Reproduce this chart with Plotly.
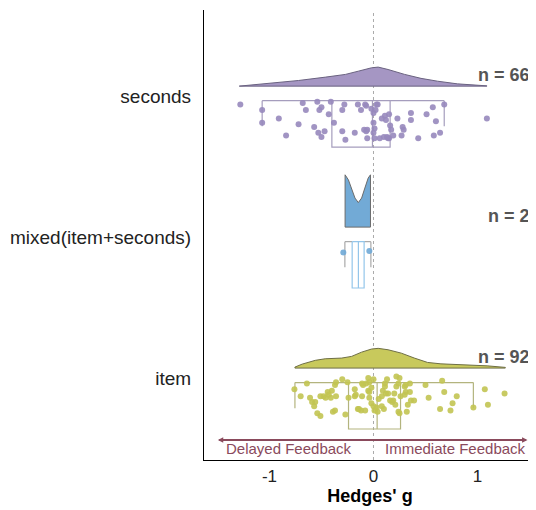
import plotly.graph_objects as go

categories = ["item", "mixed(item+seconds)", "seconds"]
n_labels = ["n = 92", "n = 2", "n = 66"]
x_ticks = [-1, 0, 1]

# Hedges' g per study, with vertical jitter (in category units below the category line)
seconds_g = [-1.28, -1.07, -1.07, -0.91, -0.84, -0.72, -0.68, -0.65, -0.57, -0.54, -0.52, -0.50,
             -0.53, -0.47, -0.50, -0.43, -0.41, -0.38, -0.30, -0.28, -0.30, -0.27, -0.18, -0.15,
             -0.12, -0.08, -0.07, -0.09, -0.06, -0.06, -0.02, 0.00, 0.03, 0.04, 0.00, 0.00,
             0.01, 0.01, 0.06, 0.08, 0.11, 0.12, 0.15, 0.16, 0.10, 0.13, 0.15, 0.19, 0.17,
             0.23, 0.28, 0.29, 0.27, 0.36, 0.36, 0.43, 0.51, 0.57, 0.60, 0.64, 0.58, 0.68, 1.09,
             0.02, 0.14, -0.07]
seconds_jit = [0.06, 0.10, 0.19, 0.16, 0.28, 0.20, 0.05, 0.10, 0.22, 0.04, 0.10, 0.08,
               0.26, 0.25, 0.29, 0.13, 0.04, 0.19, 0.10, 0.06, 0.25, 0.31, 0.26, 0.06,
               0.10, 0.06, 0.07, 0.24, 0.24, 0.30, 0.09, 0.12, 0.06, 0.06, 0.19, 0.26,
               0.23, 0.30, 0.30, 0.16, 0.14, 0.17, 0.13, 0.21, 0.29, 0.29, 0.30, 0.28, 0.24,
               0.16, 0.22, 0.24, 0.28, 0.12, 0.17, 0.30, 0.13, 0.08, 0.18, 0.26, 0.28, 0.06, 0.16,
               0.10, 0.30, 0.25]

mixed_g = [-0.29, -0.04]
mixed_jit = [0.11, 0.10]

item_g = [-0.76, -0.70, -0.64, -0.61, -0.59, -0.56, -0.57, -0.54, -0.51, -0.51, -0.48, -0.46,
          -0.44, -0.40, -0.41, -0.36, -0.37, -0.36, -0.30, -0.25, -0.39, -0.37, -0.27, -0.24,
          -0.18, -0.17, -0.15, -0.12, -0.08, -0.11, -0.07, -0.05, -0.04, 0.00, -0.05, -0.04,
          -0.02, 0.00, 0.01, 0.03, 0.04, 0.09, 0.10, 0.11, 0.13, 0.08, 0.12, 0.16, 0.18,
          0.20, 0.22, 0.24, 0.25, 0.24, 0.26, 0.30, 0.31, 0.32, 0.33, 0.36, 0.35, 0.39,
          0.50, 0.53, 0.64, 0.66, 0.68, 0.74, 0.76, 0.80, 0.96, 1.07, 1.10, 1.26,
          -0.14, -0.10, -0.04, 0.08, 0.11, 0.14, 0.19, 0.22, 0.25, 0.31, -0.18, -0.11,
          -0.43, 0.30, 0.21, 0.35, -0.02, 0.05]
item_jit = [0.08, 0.13, 0.04, 0.14, 0.17, 0.17, 0.20, 0.25, 0.27, 0.13, 0.13, 0.14,
            0.10, 0.09, 0.14, 0.13, 0.05, 0.03, 0.01, 0.03, 0.24, 0.23, 0.26, 0.14,
            0.08, 0.12, 0.22, 0.23, 0.23, 0.04, 0.04, 0.00, 0.03, 0.01, 0.09, 0.14,
            0.18, 0.20, 0.23, 0.21, 0.24, 0.09, 0.22, 0.04, 0.01, 0.13, 0.11, 0.16, 0.17,
            0.11, 0.06, 0.04, 0.00, 0.24, 0.13, 0.06, 0.10, 0.24, 0.19, 0.16, 0.04, 0.16,
            0.05, 0.14, 0.22, 0.02, 0.10, 0.23, 0.18, 0.13, 0.21, 0.08, 0.19, 0.11,
            0.22, 0.05, 0.10, 0.20, 0.06, 0.11, 0.16, -0.01, 0.25, 0.05, 0.13, 0.13,
            0.12, 0.12, 0.19, 0.10, 0.07, 0.15]

# Box statistics: whisker low, q1, median, q3, whisker high
seconds_box = [-1.07, -0.40, -0.01, 0.16, 0.68]
mixed_box = [-0.275, -0.205, -0.145, -0.09, -0.025]
item_box = [-0.755, -0.24, 0.035, 0.26, 0.96]

# Density (half-violin) outlines: g grid and height
seconds_dx = [-1.29, -1.03, -0.72, -0.46, -0.27, -0.146, -0.019, 0.045, 0.14, 0.30, 0.457, 0.616, 0.807, 1.09]
seconds_dy = [0.0, 0.016, 0.040, 0.064, 0.083, 0.106, 0.130, 0.135, 0.118, 0.083, 0.055, 0.035, 0.016, 0.002]
mixed_dx = [-0.273, -0.241, -0.210, -0.178, -0.146, -0.114, -0.083, -0.051, -0.029]
mixed_dy = [0.371, 0.335, 0.265, 0.206, 0.174, 0.206, 0.277, 0.348, 0.371]
item_dx = [-0.755, -0.686, -0.559, -0.464, -0.305, -0.21, -0.114, -0.019, 0.045, 0.14, 0.267,
           0.393, 0.52, 0.648, 0.90, 1.092, 1.267]
item_dy = [0.007, 0.028, 0.055, 0.066, 0.071, 0.083, 0.113, 0.135, 0.140, 0.130, 0.106,
           0.071, 0.040, 0.030, 0.023, 0.016, 0.005]

groups = [
    dict(pos=0, g=item_g, jit=item_jit, box=item_box, dx=item_dx, dy=item_dy,
         fill="#c8c95c", pt="#c2c452", boxc="#b3b47e", wc="#b3b47e", outline="#6f6f45"),
    dict(pos=1, g=mixed_g, jit=mixed_jit, box=mixed_box, dx=mixed_dx, dy=mixed_dy,
         fill="#72aad6", pt="#6fa8d6", boxc="#94c6ea", wc="#a9a9a9", outline="#6b6b6b"),
    dict(pos=2, g=seconds_g, jit=seconds_jit, box=seconds_box, dx=seconds_dx, dy=seconds_dy,
         fill="#a596c3", pt="#9788bd", boxc="#a59dbd", wc="#a59dbd", outline="#6a6280"),
]

DENS_OFF = 0.07
BOX_TOP = 0.033
BOX_BOT = 0.362
WHISK_BOT = 0.215

fig = go.Figure()

for gr in groups:
    p = gr["pos"]
    base = p + DENS_OFF
    xs = [gr["dx"][0]] + list(gr["dx"]) + [gr["dx"][-1], gr["dx"][0]]
    ys = [base] + [base + h for h in gr["dy"]] + [base, base]
    fig.add_trace(go.Scatter(x=xs, y=ys, mode="lines", fill="toself", fillcolor=gr["fill"],
                             line=dict(color=gr["outline"], width=1), hoverinfo="skip",
                             showlegend=False))
    lo, q1, med, q3, hi = gr["box"]
    top, bot, wb = p - BOX_TOP, p - BOX_BOT, p - WHISK_BOT
    # whiskers
    fig.add_trace(go.Scatter(
        x=[lo, q1, None, q3, hi, None, lo, lo, None, hi, hi],
        y=[top, top, None, top, top, None, top, wb, None, top, wb],
        mode="lines", line=dict(color=gr["wc"], width=1.2), hoverinfo="skip", showlegend=False))
    # box
    fig.add_trace(go.Scatter(
        x=[q1, q3, q3, q1, q1, None, med, med],
        y=[top, top, bot, bot, top, None, top, bot],
        mode="lines", line=dict(color=gr["boxc"], width=1.2), hoverinfo="skip", showlegend=False))
    # points
    fig.add_trace(go.Scatter(x=gr["g"], y=[p - j for j in gr["jit"]], mode="markers",
                             marker=dict(color=gr["pt"], size=6, opacity=0.9),
                             hoverinfo="skip", showlegend=False))

# n labels
for gr, lab in zip(groups, n_labels):
    fig.add_annotation(x=1.52, y=gr["pos"] + 0.15, text="<b>" + lab + "</b>", showarrow=False,
                       xanchor="right", yanchor="middle",
                       font=dict(size=18, color="#555555", family="Liberation Sans"))

# zero line
fig.add_shape(type="line", x0=0, x1=0, y0=0, y1=1, xref="x", yref="paper",
              line=dict(color="#aaaaaa", width=1, dash="dot"), layer="below")

# direction arrow
ARROW_Y = -0.44
arrow_col = "#8a4a5c"
fig.add_annotation(x=1.48, y=ARROW_Y, ax=-1.51, ay=ARROW_Y, xref="x", yref="y", axref="x", ayref="y",
                   showarrow=True, arrowhead=2, arrowside="end+start", arrowsize=0.6,
                   arrowwidth=1.8, arrowcolor=arrow_col, text="")
fig.add_annotation(x=-0.81, y=ARROW_Y - 0.06, text="Delayed Feedback", showarrow=False,
                   font=dict(size=15, color=arrow_col, family="Liberation Sans"))
fig.add_annotation(x=0.79, y=ARROW_Y - 0.06, text="Immediate Feedback", showarrow=False,
                   font=dict(size=15, color=arrow_col, family="Liberation Sans"))

fig.update_layout(
    width=536, height=510,
    margin=dict(l=193, r=8, t=2, b=58),
    plot_bgcolor="white", paper_bgcolor="white",
    font=dict(family="Liberation Sans", color="black"),
    xaxis=dict(range=[-1.629, 1.562], tickvals=x_ticks, ticktext=[str(v) for v in x_ticks],
               showgrid=False, zeroline=False, showline=True, linecolor="black", linewidth=1.2,
               ticks="", tickfont=dict(size=17, color="#222222"),
               title=dict(text="<b>Hedges' g</b>", font=dict(size=18, color="black"), standoff=4)),
    yaxis=dict(range=[-0.582, 2.61], tickvals=[0, 1, 2], ticktext=categories,
               showgrid=False, zeroline=False, showline=True, linecolor="black", linewidth=1.2,
               ticks="", ticklabelstandoff=8, tickfont=dict(size=19, color="#222222")),
)

fig.write_html("out.html")
